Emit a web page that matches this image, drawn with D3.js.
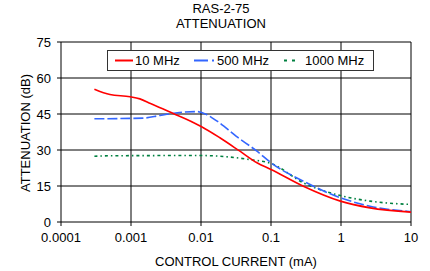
<!DOCTYPE html>
<html>
<head>
<style>
body { margin: 0; background: #fff; }
text { font-family: Arial, "Liberation Sans", sans-serif; font-size: 13px; fill: #000; }
</style>
<script src="https://d3js.org/d3.v7.min.js"></script>
</head>
<body>
<svg id="chart" width="430" height="271"></svg>
<script>
var titleLines = ["RAS-2-75", "ATTENUATION"];
var xTicks = [0.0001, 0.001, 0.01, 0.1, 1, 10];
var xTickLabels = ["0.0001", "0.001", "0.01", "0.1", "1", "10"];
var yTicks = [0, 15, 30, 45, 60, 75];

var current10 = [0.0003, 0.0005, 0.00097, 0.00134, 0.0019, 0.004, 0.0063, 0.0102, 0.0186, 0.036, 0.063, 0.1, 0.29, 0.98, 2.6, 10];
var atten10 = [55.3, 53.1, 52.2, 51.3, 49.4, 45.2, 42.7, 39.7, 35.1, 29.5, 24.7, 21.9, 14.9, 8.7, 5.9, 4.1];

var current500 = [0.0003, 0.0015, 0.0026, 0.0056, 0.0087, 0.012, 0.017, 0.032, 0.063, 0.1, 0.29, 0.98, 2.6, 10];
var atten500 = [43.0, 43.3, 44.4, 45.8, 46.0, 44.8, 42.0, 35.7, 29.5, 24.7, 17.0, 10.1, 6.6, 4.3];

var current1000 = [0.0003, 0.0005, 0.0097, 0.023, 0.05, 0.1, 0.29, 0.98, 2.6, 10];
var atten1000 = [27.4, 27.6, 27.7, 27.2, 26.0, 24.4, 16.3, 11.0, 8.7, 7.3];

var seriesNames = ["10 MHz", "500 MHz", "1000 MHz"];
var seriesColors = ["#ff0000", "#3366ff", "#008040"];
var seriesDash = [null, "10,3", "3,3,1.5,3"];

var margin = {top: 42, right: 19, bottom: 49, left: 61};
var width = 430, height = 271;

var svg = d3.select("#chart");

var x = d3.scaleLog()
  .domain([0.0001, 10])
  .range([margin.left, width - margin.right]);

var y = d3.scaleLinear()
  .domain([0, 75])
  .range([height - margin.bottom, margin.top]);

// title
svg.selectAll(".title")
  .data(titleLines)
  .join("text")
  .attr("class", "title")
  .attr("x", 221)
  .attr("y", (d, i) => 13 + i * 15)
  .attr("text-anchor", "middle")
  .text(d => d);

// grid
svg.append("g")
  .selectAll("line")
  .data(yTicks)
  .join("line")
  .attr("x1", margin.left - 4)
  .attr("x2", width - margin.right)
  .attr("y1", d => y(d))
  .attr("y2", d => y(d))
  .attr("stroke", "#000");

svg.append("g")
  .selectAll("line")
  .data(xTicks)
  .join("line")
  .attr("x1", d => x(d))
  .attr("x2", d => x(d))
  .attr("y1", margin.top)
  .attr("y2", height - margin.bottom + 4)
  .attr("stroke", "#000");

// axis labels
svg.append("g")
  .selectAll("text")
  .data(yTicks)
  .join("text")
  .attr("x", margin.left - 10)
  .attr("y", d => y(d) + 5)
  .attr("text-anchor", "end")
  .text(d => d);

svg.append("g")
  .selectAll("text")
  .data(xTicks)
  .join("text")
  .attr("x", d => x(d))
  .attr("y", height - margin.bottom + 20)
  .attr("text-anchor", "middle")
  .text((d, i) => xTickLabels[i]);

svg.append("text")
  .attr("x", 236)
  .attr("y", 266)
  .attr("text-anchor", "middle")
  .text("CONTROL CURRENT (mA)");

svg.append("text")
  .attr("transform", "translate(30,133) rotate(-90)")
  .attr("text-anchor", "middle")
  .text("ATTENUATION (dB)");

// lines
var line = d3.line()
  .x(d => x(d[0]))
  .y(d => y(d[1]))
  .curve(d3.curveMonotoneX);

var series = [
  d3.zip(current10, atten10),
  d3.zip(current500, atten500),
  d3.zip(current1000, atten1000)
];

// draw back to front so red sits on top
[2, 1, 0].forEach(function(i) {
  svg.append("path")
    .datum(series[i])
    .attr("fill", "none")
    .attr("stroke", seriesColors[i])
    .attr("stroke-width", 1.6)
    .attr("stroke-dasharray", seriesDash[i])
    .attr("d", line);
});

// legend
var lg = svg.append("g");
lg.append("rect")
  .attr("x", 107.5)
  .attr("y", 50.5)
  .attr("width", 266)
  .attr("height", 20)
  .attr("fill", "#fff")
  .attr("stroke", "#333");

var legendX = [115, 194, 284];
var legendLen = [18, 22, 14];
var textX = [135, 217, 305];

seriesNames.forEach(function(name, i) {
  lg.append("line")
    .attr("x1", legendX[i])
    .attr("x2", legendX[i] + legendLen[i])
    .attr("y1", 60.5)
    .attr("y2", 60.5)
    .attr("stroke", seriesColors[i])
    .attr("stroke-width", 2)
    .attr("stroke-dasharray", i == 0 ? null : (i == 1 ? "14,4,2,4" : "3,5"));
  lg.append("text")
    .attr("x", textX[i])
    .attr("y", 65)
    .text(name);
});
</script>
</body>
</html>
